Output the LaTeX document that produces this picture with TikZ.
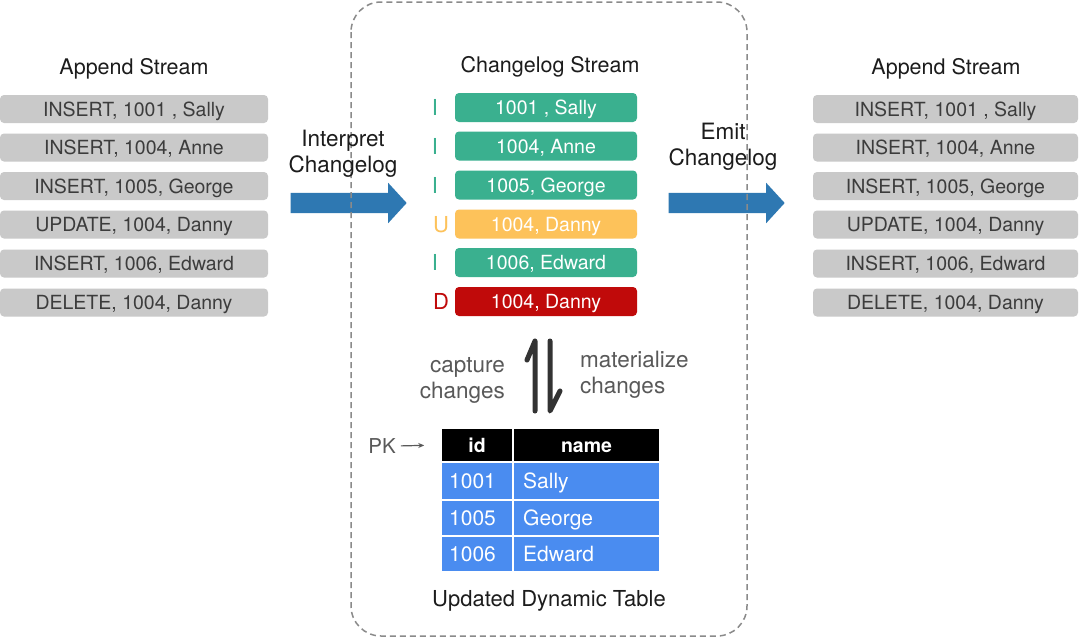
\documentclass[tikz,border=0pt]{standalone}
\usepackage{fontspec}
\setmainfont{TeX Gyre Heros}
\usetikzlibrary{shapes.arrows,arrows.meta}
\definecolor{barg}{HTML}{C9C9C9}
\definecolor{bartext}{HTML}{3C3C3C}
\definecolor{tealc}{HTML}{3AB08F}
\definecolor{yellowc}{HTML}{FDC25A}
\definecolor{redc}{HTML}{C00A0A}
\definecolor{tblue}{HTML}{4A8CF0}
\definecolor{ablue}{HTML}{2E78B2}
\definecolor{graytxt}{HTML}{595959}
\definecolor{blacktxt}{HTML}{1C1C1C}
\definecolor{dashg}{HTML}{8A8A8A}
\tikzset{
  gbar/.style={fill=barg, rounded corners=4pt, minimum height=28pt, inner sep=0pt,
    font=\fontsize{19.5}{20}\selectfont, text=bartext, text height=14pt, text depth=0pt},
  cbar/.style={rounded corners=4pt, minimum width=182pt, minimum height=29pt, inner sep=0pt,
    font=\fontsize{19.5}{20}\selectfont, text=white, text height=14pt, text depth=0pt},
  tag/.style={font=\fontsize{22}{22}\selectfont, inner sep=0pt, text height=16pt, text depth=0pt},
  title/.style={font=\fontsize{21.5}{22}\selectfont, text=blacktxt, inner sep=0pt, text height=15.5pt, text depth=0pt},
  lbl/.style={font=\fontsize{22.5}{26}\selectfont, inner sep=0pt, align=center},
  bigarrow/.style={single arrow, fill=ablue, draw=none, minimum height=116pt, minimum width=40pt,
    inner xsep=0pt, inner ysep=10pt, single arrow head extend=10pt, single arrow tip angle=95},
  cell/.style={draw=white, line width=1.5pt, inner sep=0pt},
  celltxt/.style={font=\fontsize{21}{21}\selectfont, text=white, inner sep=0pt, text height=15pt, text depth=0pt},
  headtxt/.style={font=\bfseries\fontsize{19.5}{20}\selectfont, text=white, inner sep=0pt, text height=14pt, text depth=0pt},
}
\begin{document}
\begin{tikzpicture}[x=1pt,y=-1pt]
\useasboundingbox (0,0) rectangle (1080,638);
\fill[white] (0,0) rectangle (1080,638);

% big blue arrows (under the dashed frame)
\node[bigarrow] (ia) at (344,203) {};
\node[bigarrow] (ea) at (722,203) {};

% dashed frame
\draw[dashg, line width=1.5pt, dash pattern=on 6pt off 4pt, rounded corners=30pt] (351,2) rectangle (747,636);

% left append stream
\node[title] (lt) at (134,67) {Append Stream};
\node[gbar, minimum width=268pt] (l1) at (134,109) {INSERT, 1001 , Sally};
\node[gbar, minimum width=268pt] (l2) at (134,147.5) {INSERT, 1004, Anne};
\node[gbar, minimum width=268pt] (l3) at (134,186) {INSERT, 1005, George};
\node[gbar, minimum width=268pt] (l4) at (134,224.5) {UPDATE, 1004, Danny};
\node[gbar, minimum width=268pt] (l5) at (134,263.5) {INSERT, 1006, Edward};
\node[gbar, minimum width=268pt] (l6) at (134,302.5) {DELETE, 1004, Danny};

% right append stream
\node[title] (rt) at (946,67) {Append Stream};
\node[gbar, minimum width=265pt] (r1) at (945.5,109) {INSERT, 1001 , Sally};
\node[gbar, minimum width=265pt] (r2) at (945.5,147.5) {INSERT, 1004, Anne};
\node[gbar, minimum width=265pt] (r3) at (945.5,186) {INSERT, 1005, George};
\node[gbar, minimum width=265pt] (r4) at (945.5,224.5) {UPDATE, 1004, Danny};
\node[gbar, minimum width=265pt] (r5) at (945.5,263.5) {INSERT, 1006, Edward};
\node[gbar, minimum width=265pt] (r6) at (945.5,302.5) {DELETE, 1004, Danny};

% arrow labels
\node[lbl, text=blacktxt] (il) at (343,154) {Interpret\\Changelog};
\node[lbl, text=blacktxt] (el) at (723,147) {Emit\\Changelog};

% changelog stream
\node[title] (ct) at (550,65) {Changelog Stream};
\node[cbar, fill=tealc] (c1) at (546,107.5) {1001 , Sally};
\node[cbar, fill=tealc] (c2) at (546,146) {1004, Anne};
\node[cbar, fill=tealc] (c3) at (546,185) {1005, George};
\node[cbar, fill=yellowc] (c4) at (546,224) {1004, Danny};
\node[cbar, fill=tealc] (c5) at (546,262.5) {1006, Edward};
\node[cbar, fill=redc] (c6) at (546,301.5) {1004, Danny};
\node[tag, text=tealc] (t1) at (435,107.5) {I};
\node[tag, text=tealc] (t2) at (435,146) {I};
\node[tag, text=tealc] (t3) at (435,185) {I};
\node[tag, text=yellowc] (t4) at (441,224) {U};
\node[tag, text=tealc] (t5) at (435,262.5) {I};
\node[tag, text=redc] (t6) at (441,301.5) {D};

% harpoons
\draw[blacktxt!90, line width=5pt, line cap=round, line join=round] (527,360) -- (535,341) -- (535,411);
\draw[blacktxt!90, line width=5pt, line cap=round, line join=round] (550,341) -- (550,411) -- (560,391);
\node[lbl, text=graytxt, align=right, anchor=east] (cap) at (505,380) {capture\\changes};
\node[lbl, text=graytxt, align=left, anchor=west] (mat) at (580,375) {materialize\\changes};

% table
\node[cell, fill=black, minimum width=72pt, minimum height=34pt] (hid) at (477,445) {};
\node[cell, fill=black, minimum width=147pt, minimum height=34pt] (hname) at (586.5,445) {};
\node[headtxt] (hidt) at (477,445) {id};
\node[headtxt] (hnamet) at (586.5,445) {name};
\node[cell, fill=tblue, minimum width=72pt, minimum height=37pt] (a1) at (477,481) {};
\node[cell, fill=tblue, minimum width=147pt, minimum height=37pt] (b1) at (586.5,481) {};
\node[cell, fill=tblue, minimum width=72pt, minimum height=36pt] (a2) at (477,518) {};
\node[cell, fill=tblue, minimum width=147pt, minimum height=36pt] (b2) at (586.5,518) {};
\node[cell, fill=tblue, minimum width=72pt, minimum height=36pt] (a3) at (477,554) {};
\node[cell, fill=tblue, minimum width=147pt, minimum height=36pt] (b3) at (586.5,554) {};
\node[celltxt, anchor=west] (a1t) at (449,481) {1001};
\node[celltxt, anchor=west] (b1t) at (523,481) {Sally};
\node[celltxt, anchor=west] (a2t) at (449,518) {1005};
\node[celltxt, anchor=west] (b2t) at (523,518) {George};
\node[celltxt, anchor=west] (a3t) at (449,554) {1006};
\node[celltxt, anchor=west] (b3t) at (523,554) {Edward};

% PK
\node[font=\fontsize{20.5}{20}\selectfont, text=graytxt, inner sep=0pt, text height=14.5pt, text depth=0pt] (pk) at (382,446) {PK};
\draw[graytxt, line width=1.2pt, -{Stealth[length=6pt,width=5pt]}, shorten <=5pt, shorten >=16pt] (pk.east) -- (hid.west);

\node[title, font=\fontsize{22}{22}\selectfont] (ut) at (549,599) {Updated Dynamic Table};
\end{tikzpicture}
\end{document}
